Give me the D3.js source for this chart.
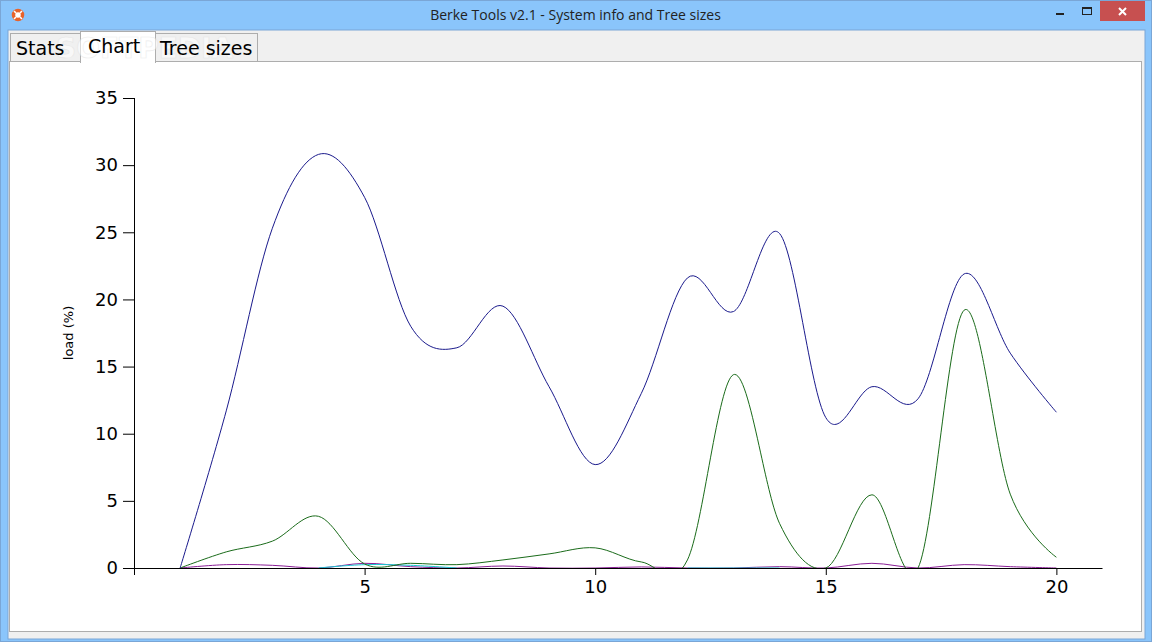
<!DOCTYPE html>
<html>
<head>
<meta charset="utf-8">
<script src="https://cdn.jsdelivr.net/npm/d3@7"></script>
<style>
body { margin: 0; background: #8ac5fb; overflow: hidden; }
svg { display: block; }
</style>
</head>
<body>
<div class="canva"></div>
<script>
const days = [1, 2, 3, 4, 5, 6, 7, 8, 9, 10, 11, 12, 13, 14, 15, 16, 17, 18, 19, 20];
const blueLoad = [0, 11.7, 25.3, 30.8, 27.6, 18, 16.4, 19.5, 13.5, 7.7, 13, 21.6, 19.1, 24.9, 11.2, 13.5, 12.6, 21.9, 16, 11.6];
const greenLoad = [0, 1.2, 2, 3.85, 0.3, 0.35, 0.25, 0.6, 1.05, 1.5, 0.45, 0.6, 14.4, 3.3, 0, 5.45, 0, 19.2, 5.5, 0.8];
const purpleLoad = [0, 0.25, 0.2, 0, 0.35, 0.1, 0, 0.15, 0, 0, 0.08, 0, 0, 0.1, 0, 0.35, 0, 0.25, 0.1, 0];
const cyanLoad = [null, null, null, 0, 0.25, 0.2, 0, null, null, null, null, 0, 0, 0, null, null, null, null, null, null];
const xTicks = [0, 5, 10, 15, 20];
const yTicks = [0, 5, 10, 15, 20, 25, 30, 35];
const tabNames = ["Stats", "Chart", "Tree sizes"];

const svg = d3.select(".canva").append("svg")
    .attr("width", 1152)
    .attr("height", 642);

// window chrome
svg.append("rect").attr("width", 1152).attr("height", 642).attr("fill", "#8ac5fb");
svg.append("rect").attr("x", 0.5).attr("y", 0.5).attr("width", 1151).attr("height", 641)
    .attr("fill", "none").attr("stroke", "#7aa6d6");
svg.append("rect").attr("x", 8).attr("y", 30).attr("width", 1137).attr("height", 609)
    .attr("fill", "#f0f0f0").attr("stroke", "#7aa6d6");
svg.append("rect").attr("x", 1100).attr("y", 1).attr("width", 45).attr("height", 20).attr("fill", "#c75050");

const chromeText = (x, y, txt, size, family) => svg.append("text")
    .attr("x", x).attr("y", y).text(txt)
    .attr("font-size", size).attr("font-family", family);

chromeText(575.5, 20, "Berke Tools v2.1 - System info and Tree sizes", 14, "Open Sans")
    .attr("text-anchor", "middle").attr("fill", "#222");

// close, minimize, maximize glyphs
svg.append("path").attr("d", "M1119 8l7 7m0-7l-7 7").attr("stroke", "#fff").attr("stroke-width", 2);
svg.append("rect").attr("x", 1056).attr("y", 13).attr("width", 8).attr("height", 2).attr("fill", "#222");
svg.append("rect").attr("x", 1082.5).attr("y", 7.5).attr("width", 9).attr("height", 7)
    .attr("fill", "none").attr("stroke", "#222");
svg.append("rect").attr("x", 1082).attr("y", 7).attr("width", 10).attr("height", 2).attr("fill", "#222");

// life ring icon
svg.append("circle").attr("cx", 18).attr("cy", 15).attr("r", 4.5)
    .attr("fill", "#fff").attr("stroke", "#e8622a").attr("stroke-width", 3.5);
svg.append("path").attr("d", "M14 11l2 2m6-2l-2 2m-6 6l2-2m6 2l-2-2").attr("stroke", "#fff").attr("stroke-width", 1.6);

// tabs and panel
svg.append("rect").attr("x", 9.5).attr("y", 61.5).attr("width", 1132).attr("height", 570)
    .attr("fill", "#fff").attr("stroke", "#adadad");

const tabBoxes = [[10.5, 33.5, 70, 28], [155.5, 33.5, 102, 28], [80.5, 31.5, 75, 31]];
svg.selectAll(".tab").data(tabBoxes).enter().append("rect")
    .attr("class", "tab")
    .attr("x", d => d[0]).attr("y", d => d[1])
    .attr("width", d => d[2]).attr("height", d => d[3])
    .attr("fill", (d, i) => i == 2 ? "#fff" : "#f0f0f0")
    .attr("stroke", "#adadad");
svg.append("rect").attr("x", 81).attr("y", 60).attr("width", 74).attr("height", 3).attr("fill", "#fff");

// faint watermark behind the tab labels
chromeText(56, 58, "SOFTPEDIA", 28, "DejaVu Sans")
    .attr("font-weight", "bold").attr("fill", "#fff").attr("stroke", "#dedede").attr("stroke-width", 0.6).attr("opacity", 0.55);
chromeText(16, 55, tabNames[0], 19, "DejaVu Sans");
chromeText(88, 53, tabNames[1], 19, "DejaVu Sans");
chromeText(160, 55, tabNames[2], 19, "DejaVu Sans");

// chart
const x = d3.scaleLinear().domain([0, 21]).range([134, 1102.5]);
const y = d3.scaleLinear().domain([0, 35]).range([568, 98]);

const xAxis = d3.axisBottom(x).tickValues(xTicks).tickSize(7).tickPadding(5)
    .tickFormat(d => d === 0 ? "" : d);
const yAxis = d3.axisLeft(y).tickValues(yTicks).tickSize(11).tickPadding(5);

svg.append("defs").append("clipPath").attr("id", "plot")
    .append("rect").attr("x", 134).attr("y", 90).attr("width", 968).attr("height", 478);

const line = d3.line()
    .defined(d => d !== null)
    .x(d => x(d.day))
    .y(d => y(d.load))
    .curve(d3.curveCatmullRom.alpha(0));

const toPoints = values => values
    .map((load, i) => ({ day: days[i], load: load }))
    .filter(d => d.load !== null);

const plot = svg.append("g").attr("clip-path", "url(#plot)");
const seriesList = [
    [purpleLoad, "#8a1f96"],
    [cyanLoad, "#19c8d2"],
    [greenLoad, "#1a6b1a"],
    [blueLoad, "#1a1a8c"]
];
const cyanParts = [toPoints(cyanLoad.slice(0, 7)), toPoints(cyanLoad.map((d, i) => i > 6 ? d : null))];

plot.selectAll("path").data(seriesList).enter().append("path")
    .attr("d", d => d[0] === cyanLoad ? cyanParts.map(line).join("") : line(toPoints(d[0])))
    .attr("fill", "none")
    .attr("stroke", d => d[1])
    .attr("stroke-width", 1);

const gx = svg.append("g").attr("transform", "translate(0,568)").call(xAxis);
const gy = svg.append("g").attr("transform", "translate(134,0)").call(yAxis);
for (const g of [gx, gy]) {
    g.attr("font-family", "DejaVu Sans").attr("font-size", 18);
    g.selectAll("text").attr("fill", "#000");
    g.selectAll("line, path").attr("stroke", "#000");
}
gx.select(".domain").attr("d", "M134,0.5H1102.5");
gy.select(".domain").attr("d", "M0.5,98V575");

svg.append("text")
    .attr("transform", "translate(73,333) rotate(-90)")
    .attr("text-anchor", "middle")
    .attr("font-family", "DejaVu Sans")
    .attr("font-size", 13)
    .text("load (%)");
</script>
</body>
</html>
